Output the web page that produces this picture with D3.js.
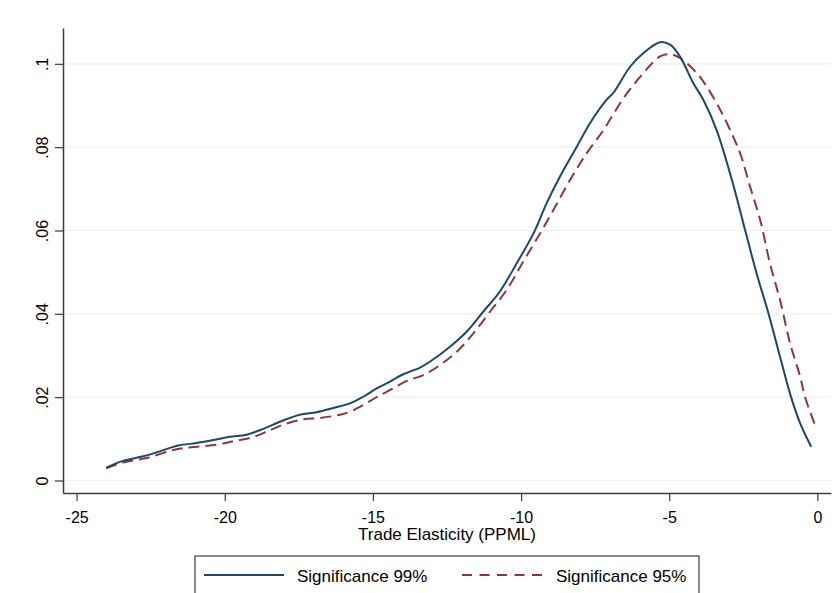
<!DOCTYPE html>
<html>
<head>
<meta charset="utf-8">
<script src="https://cdn.jsdelivr.net/npm/d3@7"></script>
<style>
  body { margin: 0; background: #fff; }
  svg { display: block; font-family: "Liberation Sans", Arial, sans-serif; }
</style>
</head>
<body>
<svg id="chart"></svg>
<script>
// x positions and densities
var sig99X = [-24.0, -23.43, -22.75, -22.19, -21.57, -20.95, -20.39, -19.83, -19.26, -18.7,
  -18.14, -17.47, -16.9, -16.34, -15.78, -15.33, -14.87, -14.54, -13.98, -13.41,
  -13.08, -12.4, -11.84, -11.28, -10.72, -10.15, -9.58, -9.14, -8.69, -8.12,
  -7.67, -7.11, -6.89, -6.32, -5.87, -5.31, -4.97, -4.64, -4.19, -3.85,
  -3.4, -2.84, -2.44, -2.05, -1.65, -1.26, -0.9, -0.58, -0.21];
var sig99Y = [0.0031, 0.0047, 0.0058, 0.0070, 0.0084, 0.0090, 0.0097, 0.0105, 0.0110, 0.0124,
  0.0141, 0.0158, 0.0164, 0.0174, 0.0185, 0.0201, 0.0221, 0.0233, 0.0255, 0.0271,
  0.0285, 0.0321, 0.0357, 0.0405, 0.0453, 0.0521, 0.0593, 0.0665, 0.0729, 0.0801,
  0.0858, 0.0914, 0.0930, 0.0993, 0.1026, 0.1052, 0.1046, 0.1018, 0.0954, 0.0914,
  0.0841, 0.0710, 0.0601, 0.0497, 0.0401, 0.0297, 0.0203, 0.0137, 0.0081];

var sig95X = [-24.0, -23.43, -22.64, -21.63, -20.95, -20.28, -19.72, -19.1, -18.59, -18.03,
  -17.35, -16.79, -16.11, -15.78, -15.33, -14.93, -14.43, -13.86, -13.3, -12.74,
  -12.17, -11.61, -11.05, -10.49, -9.93, -9.36, -8.91, -8.35, -7.79, -7.22,
  -6.5, -5.87, -5.31, -4.97, -4.64, -4.07, -3.73, -3.28, -2.84, -2.58,
  -2.27, -1.93, -1.6, -1.26, -0.92, -0.58, -0.42, -0.08];
var sig95Y = [0.0029, 0.0043, 0.0054, 0.0075, 0.0081, 0.0086, 0.0094, 0.0103, 0.0117, 0.0134,
  0.0147, 0.0150, 0.0158, 0.0165, 0.0181, 0.0198, 0.0217, 0.0239, 0.0253, 0.0277,
  0.0309, 0.0353, 0.0405, 0.0457, 0.0525, 0.0593, 0.0649, 0.0721, 0.0785, 0.0841,
  0.0922, 0.0978, 0.1018, 0.1023, 0.1014, 0.0978, 0.0945, 0.0890, 0.0825, 0.0780,
  0.0705, 0.0625, 0.0521, 0.0433, 0.0329, 0.0249, 0.0201, 0.0133];

var xTicks = [-25, -20, -15, -10, -5, 0];
var yTicks = [0, 0.02, 0.04, 0.06, 0.08, 0.1];
var yTickLabels = ["0", ".02", ".04", ".06", ".08", ".1"];
var xTitle = "Trade Elasticity (PPML)";
var seriesNames = ["Significance 99%", "Significance 95%"];

var width = 838, height = 593;
var plotLeft = 63, plotRight = 831, plotTop = 28, plotBottom = 493;
var navy = "#1a476f", maroon = "#90353b", axisColor = "#3c3c3c";

var svg = d3.select("#chart").attr("width", width).attr("height", height);

var x = d3.scaleLinear().domain([-25.46, 0.46]).range([plotLeft, plotRight]);
var y = d3.scaleLinear().domain([-0.003, 0.1086]).range([plotBottom, plotTop]);

// grid lines
svg.append("g")
  .selectAll("line")
  .data(yTicks)
  .enter().append("line")
    .attr("x1", plotLeft).attr("x2", plotRight)
    .attr("y1", function (d) { return y(d) }).attr("y2", function (d) { return y(d) })
    .attr("stroke", "#eaf2f3").attr("stroke-width", 1.2);

// axes
var xAxis = svg.append("g")
  .attr("transform", "translate(0," + plotBottom + ")")
  .call(d3.axisBottom(x).tickValues(xTicks).tickSize(8).tickSizeOuter(0)
    .tickFormat(function (d) { return d === 0 ? "0" : String(d) }));
xAxis.selectAll("text")
  .attr("y", 30).attr("dy", 0)
  .attr("font-size", 16).attr("fill", "#000")
  .attr("font-family", "Liberation Sans, Arial, sans-serif");

var yAxis = svg.append("g")
  .attr("transform", "translate(" + plotLeft + ",0)")
  .call(d3.axisLeft(y).tickValues(yTicks).tickSize(8).tickSizeOuter(0)
    .tickFormat(function (d, i) { return yTickLabels[i] }));
yAxis.selectAll("text")
  .attr("transform", "rotate(-90)")
  .attr("x", 0).attr("y", -15).attr("dy", 0)
  .attr("text-anchor", "middle")
  .attr("font-size", 16).attr("fill", "#000")
  .attr("font-family", "Liberation Sans, Arial, sans-serif");

svg.selectAll(".domain").attr("stroke", axisColor).attr("stroke-width", 1.5);
svg.selectAll(".tick line").attr("stroke", axisColor).attr("stroke-width", 1.2);

svg.append("text")
  .attr("x", (plotLeft + plotRight) / 2).attr("y", 539.5)
  .attr("text-anchor", "middle").attr("font-size", 17)
  .text(xTitle);

// density lines
var line = d3.line()
  .x(function (d) { return x(d[0]) })
  .y(function (d) { return y(d[1]) })
  .curve(d3.curveCatmullRom.alpha(0.5));

svg.append("path")
  .datum(d3.zip(sig95X, sig95Y))
  .attr("d", line)
  .attr("fill", "none").attr("stroke", maroon)
  .attr("stroke-width", 2).attr("stroke-dasharray", "11,6");

svg.append("path")
  .datum(d3.zip(sig99X, sig99Y))
  .attr("d", line)
  .attr("fill", "none").attr("stroke", navy)
  .attr("stroke-width", 2);

// legend
var legend = svg.append("g");
legend.append("rect")
  .attr("x", 195).attr("y", 556).attr("width", 504).attr("height", 50)
  .attr("fill", "#fff").attr("stroke", axisColor).attr("stroke-width", 1.2);

var legendItems = [
  { name: seriesNames[0], color: navy, dash: null, x1: 204, x2: 284, tx: 297 },
  { name: seriesNames[1], color: maroon, dash: "10,7.5", x1: 462, x2: 542, tx: 556 }
];
legendItems.forEach(function (item) {
  legend.append("line")
    .attr("x1", item.x1).attr("x2", item.x2).attr("y1", 575).attr("y2", 575)
    .attr("stroke", item.color).attr("stroke-width", 2)
    .attr("stroke-dasharray", item.dash);
  legend.append("text")
    .attr("x", item.tx).attr("y", 581.5).attr("font-size", 17)
    .text(item.name);
});
</script>
</body>
</html>
